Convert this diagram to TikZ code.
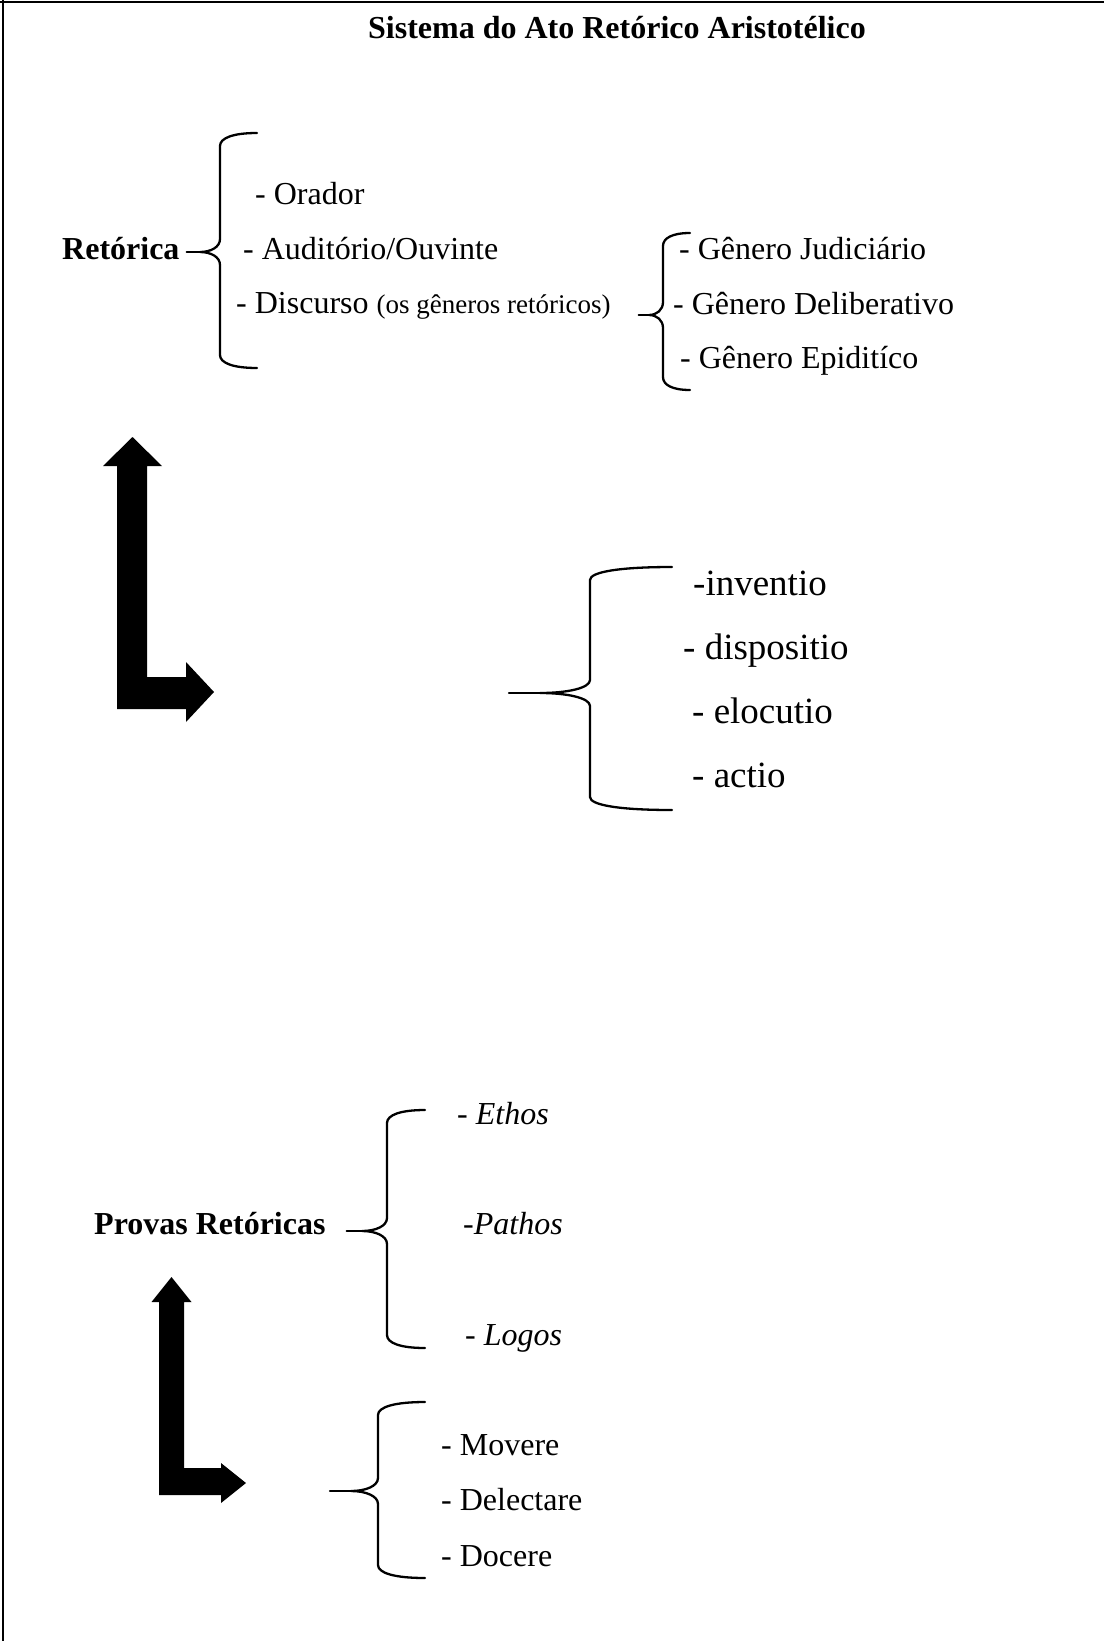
\documentclass[tikz,border=0pt]{standalone}
\usepackage{fontspec}
\setmainfont{Liberation Serif}
\usepackage{tikz}
\usetikzlibrary{calc}
\tikzset{
  txt/.style={anchor=base west, inner sep=0pt, font=\fontsize{32}{38}\selectfont},
  bigtxt/.style={txt, font=\fontsize{37}{44}\selectfont},
  headtxt/.style={txt, font=\fontsize{32}{38}\selectfont\bfseries},
  bracket/.style={line width=2.3pt, line join=round, line cap=round},
  frameline/.style={line width=2pt}
}
% curly brace: name, x, top, tip, bottom, hook end, tip depth
\newcommand{\curlybrace}[7]{%
  \draw[bracket] (#6,#3) .. controls ({#2+0.35*(#6-#2)},#3) and (#2,{#3+5}) .. (#2,{#3+13})
    -- (#2,{#4-13}) .. controls (#2,{#4-5}) and ({#2-0.45*#7},#4) .. ({#2-#7},#4)
    .. controls ({#2-0.45*#7},#4) and (#2,{#4+5}) .. (#2,{#4+13})
    -- (#2,{#5-13}) .. controls (#2,{#5-5}) and ({#2+0.35*(#6-#2)},#5) .. (#6,#5);
  \coordinate (#1) at ({#2-#7},#4);
}

\begin{document}
\begin{tikzpicture}[x=1pt, y=-1pt]
  \useasboundingbox (0,0) rectangle (1104,1641);
  \draw[frameline] (0,2) -- (1104,2);
  \draw[frameline] (3,0) -- (3,1641);

  \node[headtxt, anchor=base] (title) at (617,38) {Sistema do Ato Retórico Aristotélico};

  % Retorica
  \node[headtxt] (ret) at (62,259) {Retórica};
  \curlybrace{b1}{220}{133}{252}{368}{257}{20}
  \draw[bracket, shorten >=7pt] (b1) -- (b1 -| ret.east);
  \node[txt] (ora) at (255,204) {- Orador};
  \node[txt] (aud) at (243,259) {- Auditório/Ouvinte};
  \node[txt] (dis) at (236,313) {- Discurso {\fontsize{27}{32}\selectfont (os gêneros retóricos)}};

  \curlybrace{b2}{663}{233}{315}{390}{690}{14}
  \draw[bracket, shorten >=28pt] (b2) -- (b2 -| dis.east);
  \node[txt] (jud) at (679,259) {- Gênero Judiciário};
  \node[txt] (del) at (673,314) {- Gênero Deliberativo};
  \node[txt] (epi) at (680,368) {- Gênero Epiditíco};

  % first arrow
  \fill (132.5,437) -- (162,466) -- (147,466) -- (147,677) -- (186,677) -- (186,662)
    -- (214,692) -- (186,722) -- (186,709) -- (117,709) -- (117,466) -- (103,466) -- cycle;

  % partes
  \curlybrace{b3}{590}{567}{693}{810}{672}{50}
  \coordinate (s3) at (509,693);
  \draw[bracket] (b3) -- (s3);
  \node[bigtxt] (inv) at (693,595) {-inventio};
  \node[bigtxt] (dsp) at (683,659) {- dispositio};
  \node[bigtxt] (elo) at (692,723) {- elocutio};
  \node[bigtxt] (act) at (692,787) {- actio};

  % Provas
  \node[headtxt] (prov) at (94,1234) {Provas Retóricas};
  \curlybrace{b4}{387}{1110}{1231}{1348}{425}{25}
  \draw[bracket, shorten >=21pt] (b4) -- (b4 -| prov.east);
  \node[txt] (eth) at (457,1124) {- \textit{Ethos}};
  \node[txt] (pat) at (463,1234) {-\textit{Pathos}};
  \node[txt] (log) at (465,1345) {- \textit{Logos}};

  % second arrow
  \fill (171.5,1277) -- (191.5,1302) -- (184,1302) -- (184,1468) -- (221,1468) -- (221,1463)
    -- (246,1483) -- (221,1503) -- (221,1495) -- (159,1495) -- (159,1302) -- (151.5,1302) -- cycle;

  \curlybrace{b5}{378}{1402}{1491}{1578}{425}{27}
  \coordinate (s5) at (330,1491);
  \draw[bracket] (b5) -- (s5);
  \node[txt] (mov) at (441,1455) {- Movere};
  \node[txt] (dlc) at (441,1510) {- Delectare};
  \node[txt] (doc) at (441,1566) {- Docere};
\end{tikzpicture}
\end{document}
